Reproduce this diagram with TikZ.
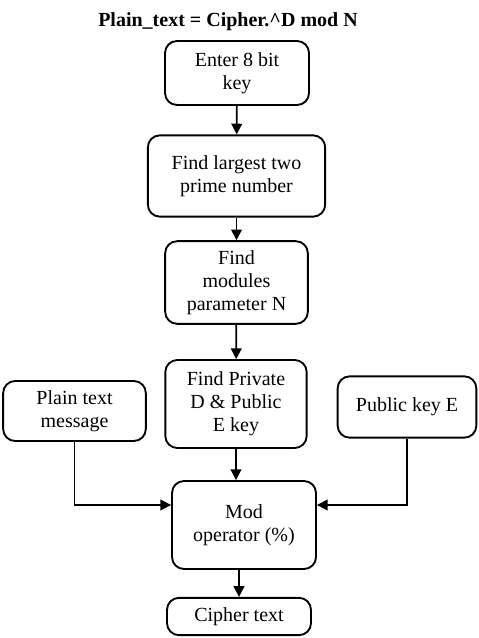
\documentclass[tikz,border=0pt]{standalone}
\usepackage{fontspec}
\setmainfont{Liberation Serif}
\usetikzlibrary{arrows.meta}
\begin{document}
\begin{tikzpicture}[x=0.75pt, y=-0.75pt,
    box/.style={draw, line width=1.4pt, rounded corners=9pt, align=center,
                inner sep=0pt, font=\fontsize{15}{17.3}\selectfont},
    flow/.style={line width=1.3pt, -{Triangle[length=8pt,width=8pt]}}]
    \useasboundingbox (0,0) rectangle (478,638);

    \node[font=\bfseries\fontsize{15}{18}\selectfont] (title) at (228,22) {Plain\_text = Cipher.\^{}D mod N};

    \node[box, minimum width=108pt, minimum height=48pt] (key) at (237,73) {Enter 8 bit\\key};
    \node[box, minimum width=133pt, minimum height=61pt] (prime) at (236.5,176) {Find largest two\\prime number};
    \node[box, minimum width=107pt, minimum height=62pt] (modN) at (236.5,282.5) {Find\\modules\\parameter N};
    \node[box, minimum width=106pt, minimum height=66pt] (keys) at (236,404) {Find Private\\D \& Public\\E key};
    \node[box, minimum width=107pt, minimum height=45pt] (plain) at (74.5,411) {Plain text\\message};
    \node[box, minimum width=104pt, minimum height=46pt] (pub) at (407,407) {Public key E};
    \node[box, minimum width=108pt, minimum height=66pt] (mod) at (244,525) {Mod\\operator (\%)};
    \node[box, minimum width=108pt, minimum height=28pt] (cipher) at (239,616.5) {Cipher text};

    \draw[flow] (key) -- (prime);
    \draw[flow] (prime) -- (modN);
    \draw[flow] (modN) -- (keys);
    \draw[flow] (keys.south) -- (keys.south |- mod.north);
    \draw[flow] (plain.south) |- ([yshift=15pt]mod.west);
    \draw[flow] (pub.south) |- ([yshift=15pt]mod.east);
    \draw[flow] (cipher.north |- mod.south) -- (cipher.north);
\end{tikzpicture}
\end{document}
